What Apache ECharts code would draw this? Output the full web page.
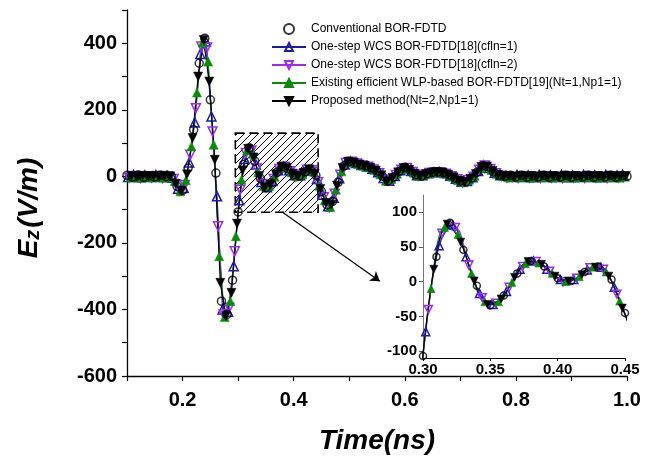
<!DOCTYPE html>
<html>
<head>
<meta charset="utf-8">
<script src="https://cdn.jsdelivr.net/npm/echarts@6/dist/echarts.min.js"></script>
<style>html,body{margin:0;padding:0;background:#fff}#c{width:658px;height:460px}</style>
</head>
<body>
<div id="c"></div>
<script>
// ---- data (time in ns, Ez in V/m) ----
const legendNames = [
  'Conventional BOR-FDTD',
  'One-step WCS BOR-FDTD[18](cfln=1)',
  'One-step WCS BOR-FDTD[18](cfln=2)',
  'Existing efficient WLP-based BOR-FDTD[19](Nt=1,Np1=1)',
  'Proposed method(Nt=2,Np1=1)'
];
const mainXLabels = [0.2, 0.4, 0.6, 0.8, 1.0];
const mainYLabels = [-600, -400, -200, 0, 200, 400];
const insetXLabels = [0.30, 0.35, 0.40, 0.45];
const insetYLabels = [-100, -50, 0, 50, 100];

const conventional = [[0.10,3],[0.11,-2],[0.12,4],[0.13,-3],[0.14,2],[0.15,-2],[0.16,3],[0.17,-1],[0.18,0],[0.19,-30],[0.20,-42],[0.21,25],[0.22,140],[0.23,340],[0.24,415],[0.25,230],[0.26,10],[0.27,-375],[0.28,-415],[0.29,-312],[0.30,-107],[0.31,36],[0.32,85],[0.33,46],[0.34,-6],[0.35,-34],[0.36,-20],[0.37,12],[0.38,30],[0.39,22],[0.40,5],[0.41,1],[0.42,14],[0.43,22],[0.44,3],[0.45,-45],[0.46,-86],[0.47,-75],[0.48,-18],[0.49,31],[0.50,45],[0.51,41],[0.52,35],[0.53,31],[0.54,25],[0.55,15],[0.56,0],[0.57,-14],[0.58,-2],[0.59,15],[0.60,27],[0.61,18],[0.62,5],[0.63,1],[0.64,8],[0.65,12],[0.66,13],[0.67,11],[0.68,4],[0.69,-5],[0.70,-14],[0.71,-16],[0.72,-5],[0.73,12],[0.74,32],[0.75,28],[0.76,13],[0.77,4],[0.78,0],[0.79,3],[0.80,-2],[0.81,3],[0.82,-3],[0.83,2],[0.84,-2],[0.85,3],[0.86,-3],[0.87,2],[0.88,-2],[0.89,3],[0.90,-3],[0.91,2],[0.92,-2],[0.93,3],[0.94,-3],[0.95,2],[0.96,-2],[0.97,3],[0.98,-3],[0.99,2],[1.00,0]];

const wcsCfl1 = [[0.102,-2],[0.112,4],[0.122,-3],[0.132,3],[0.142,-2],[0.152,4],[0.162,-2],[0.172,2],[0.182,-4],[0.192,-37],[0.202,-35],[0.212,42],[0.222,162],[0.232,368],[0.242,405],[0.252,180],[0.262,-60],[0.272,-400],[0.282,-407],[0.292,-270],[0.302,-72],[0.312,52],[0.322,82],[0.332,36],[0.342,-17],[0.352,-33],[0.362,-14],[0.372,18],[0.382,30],[0.392,18],[0.402,3],[0.412,3],[0.422,17],[0.432,21],[0.442,-8],[0.452,-55],[0.462,-90],[0.472,-64],[0.482,-6],[0.492,36],[0.502,45],[0.512,40],[0.522,34],[0.532,30],[0.542,23],[0.552,12],[0.562,-5],[0.572,-13],[0.582,1],[0.592,18],[0.602,26],[0.612,16],[0.622,3],[0.632,3],[0.642,9],[0.652,12],[0.662,13],[0.672,10],[0.682,2],[0.692,-7],[0.702,-16],[0.712,-14],[0.722,-3],[0.732,16],[0.742,33],[0.752,25],[0.762,11],[0.772,3],[0.782,2],[0.792,-2],[0.802,4],[0.812,-2],[0.822,3],[0.832,-3],[0.842,4],[0.852,-2],[0.862,3],[0.872,-2],[0.882,4],[0.892,-3],[0.902,3],[0.912,-2],[0.922,4],[0.932,-2],[0.942,3],[0.952,-3],[0.962,4],[0.972,-2],[0.982,3],[0.992,5]];

const wcsCfl2 = [[0.104,-4],[0.114,1],[0.124,-5],[0.134,0],[0.144,-4],[0.154,1],[0.164,-5],[0.174,-1],[0.184,-8],[0.194,-43],[0.204,-26],[0.214,65],[0.224,205],[0.234,390],[0.244,387],[0.254,135],[0.264,-150],[0.274,-415],[0.284,-395],[0.294,-225],[0.304,-40],[0.314,70],[0.324,78],[0.334,24],[0.344,-23],[0.354,-31],[0.364,-8],[0.374,22],[0.384,29],[0.394,15],[0.404,0],[0.414,5],[0.424,20],[0.434,18],[0.444,-18],[0.454,-63],[0.464,-93],[0.474,-52],[0.484,5],[0.494,40],[0.504,44],[0.514,39],[0.524,33],[0.534,29],[0.544,21],[0.554,9],[0.564,-10],[0.574,-11],[0.584,4],[0.594,20],[0.604,25],[0.614,13],[0.624,2],[0.634,4],[0.644,10],[0.654,12],[0.664,12],[0.674,8],[0.684,0],[0.694,-9],[0.704,-18],[0.714,-12],[0.724,-1],[0.734,20],[0.744,33],[0.754,22],[0.764,9],[0.774,2],[0.784,-4],[0.794,-1],[0.804,-5],[0.814,0],[0.824,-4],[0.834,-1],[0.844,-5],[0.854,0],[0.864,-4],[0.874,-1],[0.884,-5],[0.894,0],[0.904,-4],[0.914,-1],[0.924,-5],[0.934,0],[0.944,-4],[0.954,-1],[0.964,-5],[0.974,0],[0.984,-4],[0.994,-2]];

const wlpExisting = [[0.106,-3],[0.116,-1],[0.126,-4],[0.136,-2],[0.146,-3],[0.156,-1],[0.166,-4],[0.176,-2],[0.186,-14],[0.196,-45],[0.206,-12],[0.216,90],[0.226,252],[0.236,402],[0.246,345],[0.256,95],[0.266,-240],[0.276,-423],[0.286,-375],[0.296,-180],[0.306,-10],[0.316,78],[0.326,68],[0.336,12],[0.346,-29],[0.356,-29],[0.366,-1],[0.376,26],[0.386,27],[0.396,12],[0.406,0],[0.416,7],[0.426,21],[0.436,14],[0.446,-28],[0.456,-72],[0.466,-92],[0.476,-40],[0.486,15],[0.496,42],[0.506,43],[0.516,37],[0.526,32],[0.536,27],[0.546,19],[0.556,6],[0.566,-13],[0.576,-8],[0.586,8],[0.596,23],[0.606,23],[0.616,11],[0.626,1],[0.636,6],[0.646,10],[0.656,13],[0.666,12],[0.676,7],[0.686,-1],[0.696,-12],[0.706,-18],[0.716,-10],[0.726,2],[0.736,24],[0.746,32],[0.756,19],[0.766,7],[0.776,1],[0.786,-3],[0.796,-1],[0.806,-3],[0.816,-2],[0.826,-4],[0.836,-1],[0.846,-3],[0.856,-2],[0.866,-4],[0.876,-1],[0.886,-3],[0.896,-2],[0.906,-4],[0.916,-1],[0.926,-3],[0.936,-2],[0.946,-4],[0.956,-1],[0.966,-3],[0.976,-2],[0.986,-4],[0.996,-1]];

const proposed = [[0.108,1],[0.118,-1],[0.128,2],[0.138,0],[0.148,1],[0.158,-1],[0.168,2],[0.178,0],[0.188,-22],[0.198,-44],[0.208,6],[0.218,115],[0.228,300],[0.238,410],[0.248,285],[0.258,50],[0.268,-320],[0.278,-420],[0.288,-350],[0.298,-142],[0.308,18],[0.318,83],[0.328,57],[0.338,1],[0.348,-33],[0.358,-25],[0.368,6],[0.378,29],[0.388,25],[0.398,8],[0.408,1],[0.418,10],[0.428,21],[0.438,8],[0.448,-38],[0.458,-80],[0.468,-85],[0.478,-28],[0.488,25],[0.498,44],[0.508,42],[0.518,36],[0.528,32],[0.538,26],[0.548,17],[0.558,3],[0.568,-15],[0.578,-5],[0.588,12],[0.598,25],[0.608,20],[0.618,8],[0.628,1],[0.638,7],[0.648,11],[0.658,13],[0.668,11],[0.678,5],[0.688,-3],[0.698,-13],[0.708,-17],[0.718,-7],[0.728,7],[0.738,28],[0.748,30],[0.758,16],[0.768,5],[0.778,0],[0.788,1],[0.798,-1],[0.808,2],[0.818,0],[0.828,1],[0.838,-1],[0.848,2],[0.858,0],[0.868,1],[0.878,-1],[0.888,2],[0.898,0],[0.908,1],[0.918,-1],[0.928,2],[0.938,0],[0.948,1],[0.958,-1],[0.968,2],[0.978,0],[0.988,1],[0.998,1]];

// zoom box and arrow (data coordinates)
const zoomBox = [[0.295, 130], [0.444, -108]];
const arrowLine = [[0.38, -108], [0.555, -315]];

// ---- chart ----
const FONT = 'Liberation Sans, Arial, sans-serif';
const hatch = document.createElement('canvas');
hatch.width = 7; hatch.height = 7;
(function(){
  const g = hatch.getContext('2d');
  g.strokeStyle = '#000'; g.lineWidth = 1;
  g.beginPath();
  g.moveTo(0,7); g.lineTo(7,0);
  g.moveTo(-1,1); g.lineTo(1,-1);
  g.moveTo(6,8); g.lineTo(8,6);
  g.stroke();
})();

const styles = [
  {symbol:'circle', rot:0, color:'#000000', line:false, fill:false},
  {symbol:'triangle', rot:0, color:'#1c1ca8', line:true, fill:false},
  {symbol:'triangle', rot:180, color:'#9a2cf0', line:true, fill:false},
  {symbol:'triangle', rot:0, color:'#0a8a0a', line:true, fill:true},
  {symbol:'triangle', rot:180, color:'#000000', line:true, fill:true}
];
const datasets = [conventional, wcsCfl1, wcsCfl2, wlpExisting, proposed];
const drawOrder = [1, 2, 3, 4, 0];

function makeSeries(i, inset) {
  const s = styles[i];
  const base = {
    name: legendNames[i],
    xAxisIndex: inset ? 1 : 0,
    yAxisIndex: inset ? 1 : 0,
    data: datasets[i],
    symbol: s.symbol,
    symbolRotate: s.rot,
    symbolSize: s.symbol === 'circle' ? (inset ? 7 : 8) : (inset ? 8 : 9),
    itemStyle: {
      color: s.fill ? s.color : 'rgba(255,255,255,0)',
      borderColor: s.color,
      borderWidth: s.fill ? 0.5 : 1.5
    },
    animation: false,
    z: 3
  };
  if (s.line) {
    base.type = 'line';
    base.showAllSymbol = true;
    base.lineStyle = {color: s.color, width: 1.2};
    base.smooth = inset ? 0.35 : false;
  } else {
    base.type = 'scatter';
  }
  if (!inset && i === 0) {
    base.markArea = {
      silent: true,
      label: {show: false},
      itemStyle: {
        color: {image: hatch, repeat: 'repeat'},
        borderColor: '#000', borderWidth: 1.6, borderType: [9, 5]
      },
      data: [[{coord: zoomBox[0]}, {coord: zoomBox[1]}]]
    };
    base.markLine = {
      silent: true,
      symbol: ['none', 'arrow'],
      symbolSize: 9,
      label: {show: false},
      lineStyle: {color: '#000', width: 1.2, type: 'solid'},
      data: [[{coord: arrowLine[0]}, {coord: arrowLine[1]}]]
    };
  }
  return base;
}

const series = [];
drawOrder.forEach(i => series.push(makeSeries(i, false)));
drawOrder.forEach(i => series.push(makeSeries(i, true)));

const chart = echarts.init(document.getElementById('c'), null, {renderer: 'canvas'});
chart.setOption({
  backgroundColor: '#ffffff',
  animation: false,
  textStyle: {fontFamily: FONT},
  legend: {
    data: legendNames,
    orient: 'vertical',
    left: 266, top: 18,
    itemWidth: 34, itemHeight: 10, itemGap: 6,
    textStyle: {fontSize: 12, color: '#000', fontFamily: FONT},
    selectedMode: false
  },
  grid: [
    {left: 127, right: 31, top: 10, bottom: 84},
    {left: 423, right: 33, top: 195, bottom: 102}
  ],
  xAxis: [
    {
      type: 'value', gridIndex: 0, min: 0.1, max: 1.0, interval: 0.1,
      name: 'Time(ns)', nameLocation: 'middle', nameGap: 51,
      nameTextStyle: {fontSize: 28, fontWeight: 'bold', fontStyle: 'italic', color: '#000', fontFamily: FONT},
      axisLine: {onZero: false, lineStyle: {color: '#000', width: 1.3}},
      axisTick: {inside: false, length: 5, lineStyle: {color: '#000', width: 1.2}},
      axisLabel: {
        fontSize: 20, fontWeight: 'bold', color: '#000', margin: 14, fontFamily: FONT,
        formatter: v => { const r = Math.round(v * 10); return mainXLabels.some(m => Math.round(m*10) === r) ? (r/10).toFixed(1) : ''; }
      },
      splitLine: {show: false}
    },
    {
      type: 'value', gridIndex: 1, min: 0.3, max: 0.45,
      axisLine: {onZero: false, lineStyle: {color: '#000', width: 1.2}},
      axisTick: {length: 3, customValues: insetXLabels, lineStyle: {color: '#000'}},
      axisLabel: {fontSize: 15, fontWeight: 'bold', color: '#000', margin: 4, fontFamily: FONT,
        customValues: insetXLabels, formatter: v => v.toFixed(2)},
      splitLine: {show: false}
    }
  ],
  yAxis: [
    {
      type: 'value', gridIndex: 0, min: -600, max: 500, interval: 100,
      name: '{e|E}{s|z}{e|(V/m)}', nameLocation: 'middle', nameGap: 84, nameRotate: 90,
      nameTextStyle: {
        color: '#000',
        padding: [0, 30, 0, 0],
        rich: {
          e: {fontSize: 28, fontWeight: 'bold', fontStyle: 'italic', fontFamily: FONT, color: '#000'},
          s: {fontSize: 20, fontWeight: 'bold', fontStyle: 'italic', fontFamily: FONT, color: '#000', verticalAlign: 'bottom', padding: [0, 2, 0, 0]}
        }
      },
      axisLine: {onZero: false, lineStyle: {color: '#000', width: 1.3}},
      axisTick: {inside: false, length: 5, lineStyle: {color: '#000', width: 1.2}},
      axisLabel: {
        fontSize: 20, fontWeight: 'bold', color: '#000', margin: 10, fontFamily: FONT,
        formatter: v => mainYLabels.indexOf(Math.round(v)) >= 0 ? String(Math.round(v)) : ''
      },
      splitLine: {show: false}
    },
    {
      type: 'value', gridIndex: 1, min: -110, max: 125,
      axisLine: {onZero: false, lineStyle: {color: '#777', width: 1}},
      axisTick: {length: 4, customValues: insetYLabels, lineStyle: {color: '#555'}},
      axisLabel: {fontSize: 15, fontWeight: 'bold', color: '#000', margin: 6, fontFamily: FONT,
        customValues: insetYLabels},
      splitLine: {show: false}
    }
  ],
  series: series
});
</script>
</body>
</html>
